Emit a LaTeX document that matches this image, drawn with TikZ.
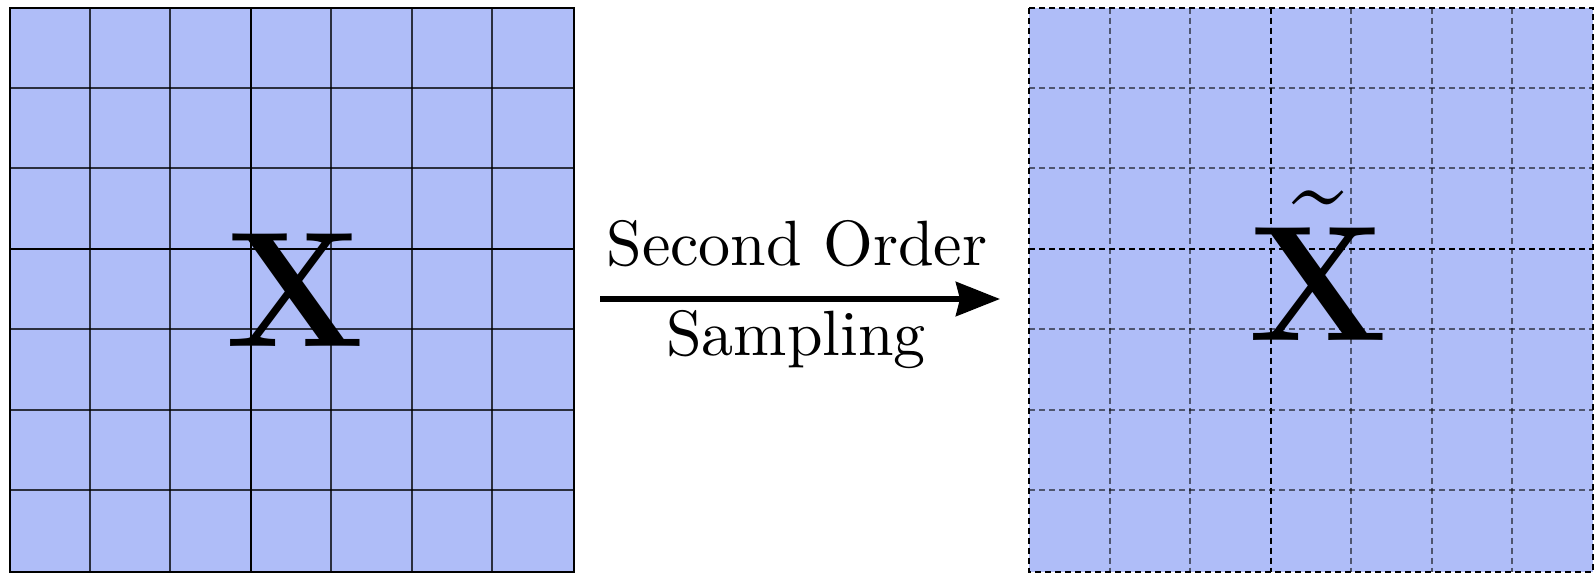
\documentclass[tikz,border=0pt]{standalone}
\usetikzlibrary{arrows.meta,calc}
\definecolor{gridblue}{RGB}{175,189,248}
\begin{document}
\begin{tikzpicture}[x=0.5pt,y=-0.5pt,
  panel/.style={draw=none,fill=gridblue,minimum width=282pt,minimum height=282pt,inner sep=0pt,outer sep=0pt},
  solidline/.style={draw=black,line width=1pt,opacity=0.75},
  midsolid/.style={draw=black,line width=1pt},
  dashline/.style={draw=black,line width=1pt,opacity=0.55,dash pattern=on 3pt off 2pt},
  middash/.style={draw=black,line width=1pt,dash pattern=on 3pt off 2pt},
  bigletter/.style={inner sep=0pt},
  label/.style={inner sep=0pt}]
\useasboundingbox (0,0) rectangle (1596,574);
% left panel
\node[panel] (gridA) at (291.5,289.5) {};
\foreach \i in {1,2,4,5,6} {
  \draw[solidline] ($(gridA.north west)+(\i*80.43,0)$) -- ($(gridA.south west)+(\i*80.43,0)$);
  \draw[solidline] ($(gridA.north west)+(0,\i*80.43)$) -- ($(gridA.north east)+(0,\i*80.43)$);
}
\draw[midsolid] ($(gridA.north west)+(3*80.43,0)$) -- ($(gridA.south west)+(3*80.43,0)$);
\draw[midsolid] ($(gridA.north west)+(0,3*80.43)$) -- ($(gridA.north east)+(0,3*80.43)$);
\draw[midsolid] (gridA.north west) rectangle (gridA.south east);
\node[bigletter] (X) at (295,290) {\scalebox{3.3}{\Huge$\mathbf{X}$}};
% right panel
\node[panel] (gridB) at (1311,289.5) {};
\foreach \i in {1,2,4,5,6} {
  \draw[dashline] ($(gridB.north west)+(\i*80.57,0)$) -- ($(gridB.south west)+(\i*80.57,0)$);
  \draw[dashline] ($(gridB.north west)+(0,\i*80.43)$) -- ($(gridB.north east)+(0,\i*80.43)$);
}
\draw[middash] ($(gridB.north west)+(3*80.57,0)$) -- ($(gridB.south west)+(3*80.57,0)$);
\draw[middash] ($(gridB.north west)+(0,3*80.43)$) -- ($(gridB.north east)+(0,3*80.43)$);
\draw[middash] (gridB.north west) rectangle (gridB.south east);
\node[bigletter,anchor=base] (Xt) at (1318,340) {\scalebox{3.3}{\Huge$\tilde{\mathbf{X}}$}};
% arrow
\coordinate (a1) at (600,299);
\coordinate (a2) at (1000,299);
\draw[line width=3pt,-{Stealth[length=22pt,width=17pt,inset=2pt]}] (a1) -- (a2);
\node[label] (t1) at (797,244) {\scalebox{3.2}{\normalsize Second Order}};
\node[label] (t2) at (796,340) {\scalebox{3.2}{\normalsize Sampling}};
\end{tikzpicture}
\end{document}
